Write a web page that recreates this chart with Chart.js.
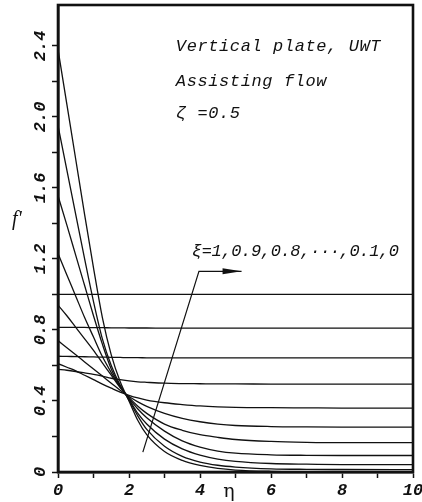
<!DOCTYPE html>
<html>
<head>
<meta charset="utf-8">
<script src="https://cdn.jsdelivr.net/npm/chart.js@4.4.1/dist/chart.umd.min.js"></script>
<style>
  html, body { margin: 0; padding: 0; background: #fff; }
  #wrap { width: 422px; height: 502px; }
</style>
</head>
<body>
<div id="wrap"><canvas id="c" width="422" height="502"></canvas></div>
<script>
// Similarity variable eta (shared abscissa for all profiles)
const eta = [0, 0.25, 0.5, 0.75, 1, 1.25, 1.5, 1.75, 2, 2.25, 2.5, 3, 3.5, 4, 4.5, 5, 6, 7, 8, 10];

// Velocity profiles f'(eta), one per xi
const fpXi10 = [2.38, 2.07, 1.76, 1.45, 1.15, 0.87, 0.66, 0.51, 0.40, 0.29, 0.21, 0.115, 0.065, 0.037, 0.02, 0.011, 0.004, 0.002, 0.001, 0.0];
const fpXi09 = [1.95, 1.70, 1.45, 1.20, 0.96, 0.75, 0.60, 0.49, 0.405, 0.315, 0.24, 0.145, 0.088, 0.056, 0.038, 0.028, 0.018, 0.015, 0.014, 0.013];
const fpXi08 = [1.556, 1.39, 1.22, 1.05, 0.88, 0.72, 0.58, 0.485, 0.41, 0.33, 0.27, 0.185, 0.13, 0.095, 0.073, 0.06, 0.048, 0.044, 0.042, 0.042];
const fpXi07 = [1.23, 1.11, 0.99, 0.87, 0.76, 0.65, 0.56, 0.48, 0.415, 0.355, 0.305, 0.23, 0.175, 0.14, 0.118, 0.106, 0.097, 0.094, 0.093, 0.093];
const fpXi06 = [0.94, 0.88, 0.815, 0.75, 0.685, 0.615, 0.545, 0.475, 0.42, 0.37, 0.33, 0.27, 0.235, 0.21, 0.195, 0.183, 0.172, 0.167, 0.165, 0.165];
const fpXi05 = [0.74, 0.70, 0.66, 0.62, 0.58, 0.54, 0.50, 0.46, 0.425, 0.395, 0.37, 0.33, 0.302, 0.283, 0.27, 0.262, 0.256, 0.254, 0.253, 0.253];
const fpXi04 = [0.61, 0.59, 0.57, 0.545, 0.52, 0.495, 0.472, 0.45, 0.432, 0.417, 0.405, 0.39, 0.38, 0.372, 0.367, 0.364, 0.362, 0.361, 0.36, 0.36];
const fpXi03 = [0.578, 0.573, 0.566, 0.558, 0.55, 0.54, 0.528, 0.52, 0.513, 0.508, 0.505, 0.50, 0.498, 0.497, 0.496, 0.496, 0.495, 0.495, 0.495, 0.495];
const fpXi02 = [0.652, 0.651, 0.65, 0.649, 0.648, 0.647, 0.646, 0.645, 0.644, 0.644, 0.643, 0.643, 0.643, 0.643, 0.643, 0.643, 0.643, 0.643, 0.643, 0.643];
const fpXi01 = [0.815, 0.815, 0.814, 0.814, 0.813, 0.813, 0.812, 0.812, 0.811, 0.811, 0.811, 0.81, 0.81, 0.81, 0.81, 0.81, 0.81, 0.81, 0.81, 0.81];
const fpXi00 = [1, 1, 1, 1, 1, 1, 1, 1, 1, 1, 1, 1, 1, 1, 1, 1, 1, 1, 1, 1];

const xiValues = [1, 0.9, 0.8, 0.7, 0.6, 0.5, 0.4, 0.3, 0.2, 0.1, 0];
const profiles = [fpXi10, fpXi09, fpXi08, fpXi07, fpXi06, fpXi05, fpXi04, fpXi03, fpXi02, fpXi01, fpXi00];

// Axis ticks and their labels
const xTicks = [0, 1, 2, 3, 4, 5, 6, 7, 8, 9, 10];
const xTickLabels = ['0', '', '2', '', '4', '', '6', '', '8', '', '10'];
const yTicks = [0, 0.2, 0.4, 0.6, 0.8, 1.0, 1.2, 1.4, 1.6, 1.8, 2.0, 2.2, 2.4];
const yTickLabels = ['0', '', '0.4', '', '0.8', '', '1.2', '', '1.6', '', '2.0', '', '2.4'];

// Annotations (in data coordinates)
const noteLines = [
  { text: 'Vertical plate, UWT', x: 3.32, y: 2.371 },
  { text: 'Assisting flow', x: 3.32, y: 2.174 },
  { text: '\u03B6 =0.5', x: 3.32, y: 1.994 },
  { text: '\u03BE=1,0.9,0.8,\u00B7\u00B7\u00B7,0.1,0', x: 3.77, y: 1.219 }
];
// Arrow indicating increasing xi direction: tail -> bend -> head
const arrowPath = [[2.39, 0.112], [3.97, 1.13], [5.17, 1.13]];

const INK = '#111';
const tickFont = { family: 'Liberation Mono', size: 17, style: 'italic', weight: 'bold' };

const datasets = profiles.map((vals, i) => ({
  label: '\u03BE=' + xiValues[i],
  data: eta.map((e, j) => ({ x: e, y: vals[j] })),
  borderColor: INK,
  borderWidth: 1.3,
  pointRadius: 0,
  fill: false,
  cubicInterpolationMode: 'monotone'
}));

const framePlugin = {
  id: 'frameAndNotes',
  afterDatasetsDraw(chart) {
    const { ctx, chartArea: a, scales: { x, y } } = chart;
    ctx.save();
    // plot frame
    ctx.strokeStyle = INK;
    ctx.lineWidth = 2.6;
    ctx.strokeRect(a.left, a.top, a.right - a.left, a.bottom - a.top);

    // arrow
    ctx.lineWidth = 1.2;
    ctx.beginPath();
    arrowPath.forEach((p, i) => {
      const px = x.getPixelForValue(p[0]), py = y.getPixelForValue(p[1]);
      if (i === 0) ctx.moveTo(px, py); else ctx.lineTo(px, py);
    });
    ctx.stroke();
    const tip = arrowPath[arrowPath.length - 1];
    const tx = x.getPixelForValue(tip[0]), ty = y.getPixelForValue(tip[1]);
    ctx.fillStyle = INK;
    ctx.beginPath();
    ctx.moveTo(tx, ty);
    ctx.lineTo(tx - 19, ty - 3);
    ctx.lineTo(tx - 19, ty + 3);
    ctx.closePath();
    ctx.fill();

    // text notes
    ctx.font = 'italic 17px "Liberation Mono"';
    ctx.textBaseline = 'alphabetic';
    ctx.textAlign = 'left';
    noteLines.forEach((n, i) => {
      ctx.letterSpacing = i < 3 ? '0.6px' : '-0.35px';
      ctx.fillText(n.text, x.getPixelForValue(n.x), y.getPixelForValue(n.y));
    });
    ctx.letterSpacing = '0px';

    // axis titles
    ctx.font = 'italic 20px "Liberation Serif"';
    ctx.fillText("f'", 12, 225);
    ctx.font = '19px "DejaVu Serif"';
    ctx.textAlign = 'center';
    ctx.fillText('\u03B7', 229, 497);
    ctx.restore();
  }
};

new Chart(document.getElementById('c'), {
  type: 'line',
  data: { datasets },
  options: {
    responsive: false,
    animation: false,
    events: [],
    layout: { padding: { top: 5, right: 9, left: 0, bottom: 0 } },
    plugins: { legend: { display: false }, tooltip: { enabled: false } },
    scales: {
      x: {
        type: 'linear',
        min: 0, max: 10,
        afterBuildTicks(s) { s.ticks = xTicks.map(v => ({ value: v })); },
        afterFit(s) { s.height = 30; s.paddingLeft = 0; s.paddingRight = 0; },
        grid: { drawOnChartArea: false, drawTicks: true, tickLength: 6, tickWidth: 1.5, tickColor: INK },
        border: { display: true, color: INK, width: 2.6 },
        ticks: {
          autoSkip: false, maxRotation: 0, minRotation: 0,
          color: INK, font: tickFont, padding: 3,
          callback(v, i) { return xTickLabels[i]; }
        }
      },
      y: {
        type: 'linear',
        min: 0, max: 2.63,
        afterBuildTicks(s) { s.ticks = yTicks.map(v => ({ value: v })); },
        afterFit(s) { s.width = 58; s.paddingTop = 0; s.paddingBottom = 0; },
        grid: { drawOnChartArea: false, drawTicks: true, tickLength: 6, tickWidth: 1.5, tickColor: INK },
        border: { display: true, color: INK, width: 2.6 },
        ticks: {
          autoSkip: false, minRotation: 90, maxRotation: 90,
          crossAlign: 'center',
          color: INK, font: tickFont, padding: -4,
          callback(v, i) { return yTickLabels[i]; }
        }
      }
    }
  },
  plugins: [framePlugin]
});
</script>
</body>
</html>
